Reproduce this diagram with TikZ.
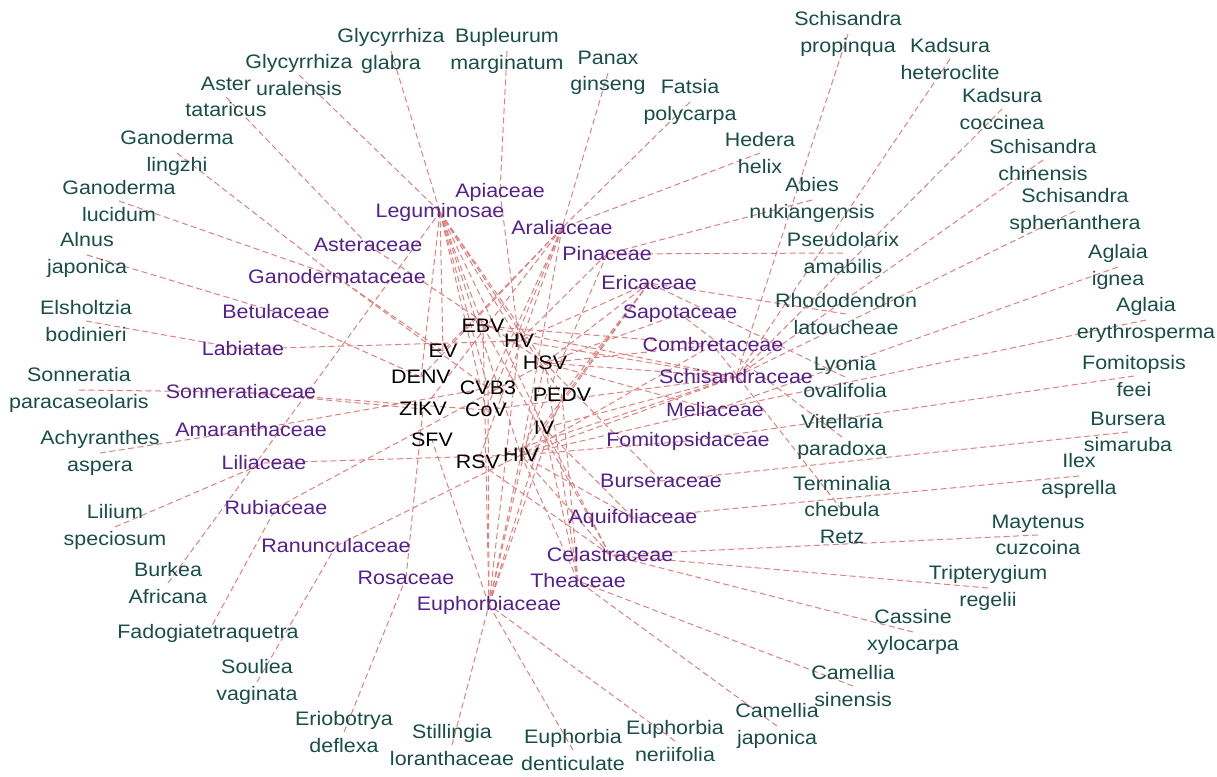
\documentclass[tikz,border=0pt]{standalone}
\usepackage{fontspec}
\setmainfont{Liberation Sans}[FakeStretch=1.1]
\usetikzlibrary{backgrounds}
\definecolor{plantc}{RGB}{24,78,70}
\definecolor{famc}{RGB}{84,32,142}
\definecolor{edgec}{RGB}{222,128,128}
\begin{document}
\begin{tikzpicture}[x=1pt,y=-1pt,
  base/.style={inner sep=0pt, align=center, font=\fontsize{19.5}{26.5}\selectfont},
  plant/.style={base, text=plantc},
  fam/.style={base, text=famc},
  vir/.style={base, text=black},
  link/.style={draw=edgec, dash pattern=on 6pt off 3.5pt, line width=1pt}]
\useasboundingbox (0,0) rectangle (1217,776);
% plants
\node[plant] (gglabra) at (391,51) {Glycyrrhiza\\glabra};
\node[plant] (bupleurum) at (507,51) {Bupleurum\\marginatum};
\node[plant] (panax) at (608,73) {Panax\\ginseng};
\node[plant] (fatsia) at (690,102) {Fatsia\\polycarpa};
\node[plant] (hedera) at (760,153) {Hedera\\helix};
\node[plant] (guralensis) at (299,75) {Glycyrrhiza\\uralensis};
\node[plant] (aster) at (226,97) {Aster\\tataricus};
\node[plant] (glingzhi) at (177,153) {Ganoderma\\lingzhi};
\node[plant] (glucidum) at (119,201) {Ganoderma\\lucidum};
\node[plant] (alnus) at (87,255) {Alnus\\japonica};
\node[plant] (elsholtzia) at (86,321) {Elsholtzia\\bodinieri};
\node[plant] (sonneratia) at (79,390) {Sonneratia\\paracaseolaris};
\node[plant] (achyranthes) at (100,453) {Achyranthes\\aspera};
\node[plant] (lilium) at (115,527) {Lilium\\speciosum};
\node[plant] (burkea) at (168,583) {Burkea\\Africana};
\node[plant] (fadogia) at (208,633) {Fadogiatetraquetra};
\node[plant] (souliea) at (257,682) {Souliea\\vaginata};
\node[plant] (eriobotrya) at (344,732) {Eriobotrya\\deflexa};
\node[plant] (stillingia) at (452,745) {Stillingia\\loranthaceae};
\node[plant] (edent) at (573,750) {Euphorbia\\denticulate};
\node[plant] (eneri) at (675,741) {Euphorbia\\neriifolia};
\node[plant] (cjap) at (777,726) {Camellia\\japonica};
\node[plant] (csin) at (853,686) {Camellia\\sinensis};
\node[plant] (cassine) at (913,632) {Cassine\\xylocarpa};
\node[plant] (trip) at (988,588) {Tripterygium\\regelii};
\node[plant] (maytenus) at (1038,535) {Maytenus\\cuzcoina};
\node[plant] (ilex) at (1079,476) {Ilex\\asprella};
\node[plant] (bursera) at (1128,432) {Bursera\\simaruba};
\node[plant] (fomitopsis) at (1134,376) {Fomitopsis\\feei};
\node[plant] (aeryth) at (1146,320) {Aglaia\\erythrosperma};
\node[plant] (aignea) at (1118,267) {Aglaia\\ignea};
\node[plant] (ssphen) at (1075,211) {Schisandra\\sphenanthera};
\node[plant] (schin) at (1043,160) {Schisandra\\chinensis};
\node[plant] (kcocc) at (1002,109) {Kadsura\\coccinea};
\node[plant] (khet) at (950,59) {Kadsura\\heteroclite};
\node[plant] (sprop) at (848,34) {Schisandra\\propinqua};
\node[plant] (abies) at (812,200) {Abies\\nukiangensis};
\node[plant] (pseudolarix) at (843,253) {Pseudolarix\\amabilis};
\node[plant] (rhodo) at (846,314) {Rhododendron\\latoucheae};
\node[plant] (lyonia) at (845,377) {Lyonia\\ovalifolia};
\node[plant] (vitellaria) at (842,437) {Vitellaria\\paradoxa};
\node[plant] (terminalia) at (842,510) {Terminalia\\chebula\\Retz};
% families
\node[fam] (fApi) at (500,192) {Apiaceae};
\node[fam] (fLeg) at (440,212) {Leguminosae};
\node[fam] (fAra) at (562,228) {Araliaceae};
\node[fam] (fAst) at (368,245) {Asteraceae};
\node[fam] (fPin) at (607,254) {Pinaceae};
\node[fam] (fGan) at (337,277) {Ganodermataceae};
\node[fam] (fEri) at (649,283) {Ericaceae};
\node[fam] (fBet) at (276,312) {Betulaceae};
\node[fam] (fSap) at (680,314) {Sapotaceae};
\node[fam] (fLab) at (243,349) {Labiatae};
\node[fam] (fCom) at (713,345) {Combretaceae};
\node[fam] (fSch) at (736,377) {Schisandraceae};
\node[fam] (fSon) at (241,392) {Sonneratiaceae};
\node[fam] (fMel) at (715,410) {Meliaceae};
\node[fam] (fAma) at (251,430) {Amaranthaceae};
\node[fam] (fFom) at (688,441) {Fomitopsidaceae};
\node[fam] (fLil) at (264,463) {Liliaceae};
\node[fam] (fBur) at (661,481) {Burseraceae};
\node[fam] (fRub) at (276,508) {Rubiaceae};
\node[fam] (fAqu) at (633,518) {Aquifoliaceae};
\node[fam] (fRan) at (336,546) {Ranunculaceae};
\node[fam] (fCel) at (610,555) {Celastraceae};
\node[fam] (fRos) at (406,578) {Rosaceae};
\node[fam] (fThe) at (578,581) {Theaceae};
\node[fam] (fEup) at (489,605) {Euphorbiaceae};
% viruses
\node[vir] (EBV) at (483,326) {EBV};
\node[vir] (HV) at (519,341) {HV};
\node[vir] (EV) at (443,351) {EV};
\node[vir] (HSV) at (545,363) {HSV};
\node[vir] (DENV) at (421,377) {DENV};
\node[vir] (CVB) at (488,388) {CVB3};
\node[vir] (PEDV) at (562,395) {PEDV};
\node[vir] (ZIKV) at (423,409) {ZIKV};
\node[vir] (CoV) at (486,410) {CoV};
\node[vir] (IV) at (544,428) {IV};
\node[vir] (SFV) at (432,440) {SFV};
\node[vir] (RSV) at (478,462) {RSV};
\node[vir] (HIV) at (521,455) {HIV};
\begin{scope}[on background layer]
% plant - family
\foreach \a/\b in {gglabra/fLeg, guralensis/fLeg, burkea/fLeg, bupleurum/fApi,
  panax/fAra, fatsia/fAra, hedera/fAra, aster/fAst, glingzhi/fGan, glucidum/fGan,
  alnus/fBet, elsholtzia/fLab, sonneratia/fSon, achyranthes/fAma, lilium/fLil,
  fadogia/fRub, souliea/fRan, eriobotrya/fRos, stillingia/fEup, edent/fEup, eneri/fEup,
  cjap/fThe, csin/fThe, cassine/fCel, trip/fCel, maytenus/fCel, ilex/fAqu,
  bursera/fBur, fomitopsis/fFom, aeryth/fMel, aignea/fMel, ssphen/fSch, schin/fSch,
  kcocc/fSch, khet/fSch, sprop/fSch, abies/fPin, pseudolarix/fPin, rhodo/fEri,
  lyonia/fEri, vitellaria/fSap, terminalia/fCom}
  \draw[link] (\a.center) -- (\b.center);
% family - virus
\foreach \a/\b in {fLeg/EV, fLeg/EBV, fLeg/HV, fLeg/HSV, fLeg/CVB, fLeg/CoV, fLeg/PEDV,
  fLeg/IV, fLeg/HIV, fLeg/DENV, fApi/HV,
  fAra/EV, fAra/DENV, fAra/CVB, fAra/CoV, fAra/ZIKV, fAra/HIV, fAra/RSV,
  fAst/HSV, fGan/EV, fGan/CVB, fBet/DENV, fLab/HV, fSon/ZIKV, fSon/CoV,
  fAma/CVB, fLil/HIV, fRub/HSV, fRan/HIV, fRos/ZIKV,
  fEup/HIV, fEup/HSV, fEup/IV, fEup/CVB, fEup/EBV, fEup/HV, fEup/SFV, fEup/PEDV,
  fThe/HIV, fThe/IV, fThe/PEDV, fThe/HSV,
  fCel/HIV, fCel/IV, fCel/EBV, fCel/RSV, fAqu/HIV, fAqu/IV, fBur/HSV, fFom/HIV,
  fMel/HSV, fMel/HIV, fSch/HIV, fSch/IV, fSch/HSV, fSch/HV, fSch/EBV, fSch/CoV, fSch/RSV,
  fCom/HSV, fCom/HIV, fCom/EBV, fSap/HSV,
  fEri/HSV, fEri/HV, fEri/IV, fEri/HIV, fEri/PEDV, fPin/HV, fPin/HIV}
  \draw[link] (\a.center) -- (\b.center);
\end{scope}
\end{tikzpicture}
\end{document}
